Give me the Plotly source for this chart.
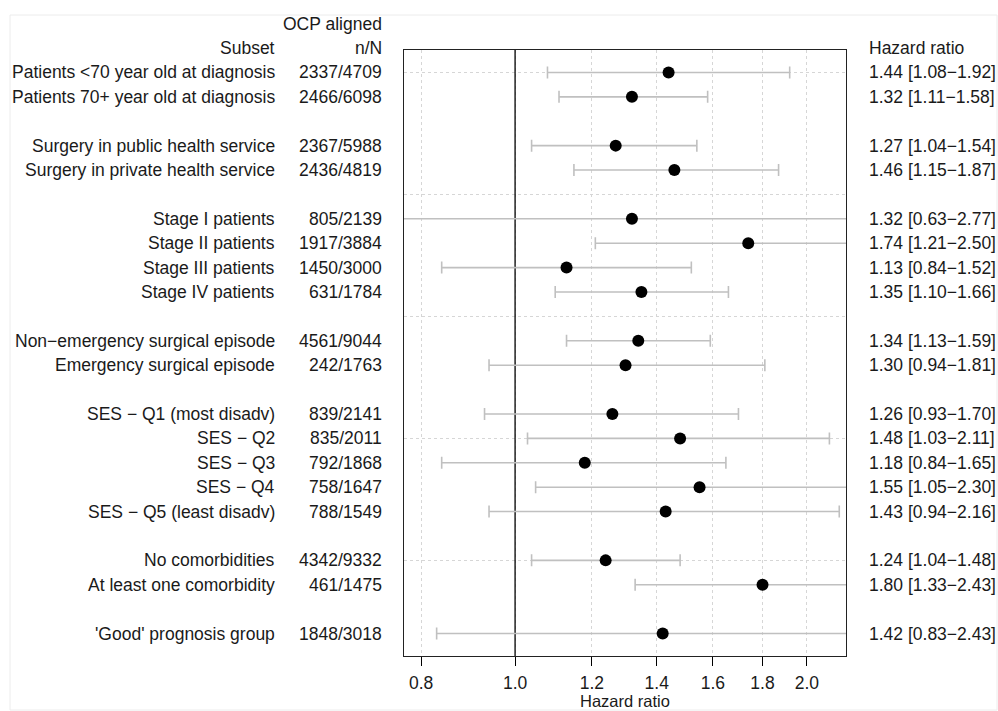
import plotly.graph_objects as go

# ---- data ----
groups = [
    ["Patients <70 year old at diagnosis", "Patients 70+ year old at diagnosis"],
    ["Surgery in public health service", "Surgery in private health service"],
    ["Stage I patients", "Stage II patients", "Stage III patients", "Stage IV patients"],
    ["Non\u2212emergency surgical episode", "Emergency surgical episode"],
    ["SES \u2212 Q1 (most disadv)", "SES \u2212 Q2", "SES \u2212 Q3", "SES \u2212 Q4", "SES \u2212 Q5 (least disadv)"],
    ["No comorbidities", "At least one comorbidity"],
    ["'Good' prognosis group"],
]
n_over_N = ["2337/4709", "2466/6098", "2367/5988", "2436/4819", "805/2139", "1917/3884",
            "1450/3000", "631/1784", "4561/9044", "242/1763", "839/2141", "835/2011",
            "792/1868", "758/1647", "788/1549", "4342/9332", "461/1475", "1848/3018"]
hr = [1.44, 1.32, 1.27, 1.46, 1.32, 1.74, 1.13, 1.35, 1.34, 1.30, 1.26, 1.48, 1.18, 1.55, 1.43, 1.24, 1.80, 1.42]
lo = [1.08, 1.11, 1.04, 1.15, 0.63, 1.21, 0.84, 1.10, 1.13, 0.94, 0.93, 1.03, 0.84, 1.05, 0.94, 1.04, 1.33, 0.83]
hi = [1.92, 1.58, 1.54, 1.87, 2.77, 2.50, 1.52, 1.66, 1.59, 1.81, 1.70, 2.11, 1.65, 2.30, 2.16, 1.48, 2.43, 2.43]
x_ticks = [0.8, 1.0, 1.2, 1.4, 1.6, 1.8, 2.0]
x_tick_labels = ["0.8", "1.0", "1.2", "1.4", "1.6", "1.8", "2.0"]
ref_hr = 1.0

# ---- layout of rows (one blank row between groups) ----
subsets, rows = [], []
r = 0
for g in groups:
    for s in g:
        subsets.append(s)
        rows.append(r)
        r += 1
    r += 1
n_rows = rows[-1] + 1
pad = 0.04 * (n_rows - 1)
y_range = [rows[-1] + pad, -pad]

FONT = "Liberation Sans, Arial, sans-serif"
FS = 17.5
TXT = "#1a1a1a"
W, H = 998, 711
L, R, T, B = 404, 152, 50, 55
pw = W - L - R
ph = H - T - B

def px_x(px):
    return (px - L) / pw

def px_y(py):
    return (T + ph - py) / ph

row_px = ph / (y_range[0] - y_range[1])

def row_to_py(rw):
    return T + (rw - y_range[1]) * row_px

fig = go.Figure()

# reference line at HR = 1
fig.add_trace(go.Scatter(x=[ref_hr, ref_hr], y=y_range, mode="lines",
                         line=dict(color="black", width=1.3), hoverinfo="skip",
                         showlegend=False))

fig.add_trace(go.Scatter(
    x=hr, y=rows, mode="markers",
    marker=dict(color="black", size=12),
    error_x=dict(type="data", symmetric=False,
                 array=[h - m for h, m in zip(hi, hr)],
                 arrayminus=[m - l for m, l in zip(hr, lo)],
                 color="#c0c0c0", thickness=1.6, width=6),
    showlegend=False, cliponaxis=True,
))

ann = []
for s, nn, h, l, u, y in zip(subsets, n_over_N, hr, lo, hi, rows):
    ann.append(dict(x=px_x(277), y=y, xref="paper", yref="y", text=s,
                    xanchor="right", yanchor="middle", showarrow=False))
    ann.append(dict(x=px_x(384), y=y, xref="paper", yref="y", text=nn,
                    xanchor="right", yanchor="middle", showarrow=False))
    ann.append(dict(x=px_x(867), y=y, xref="paper", yref="y",
                    text=f"{h:.2f} [{l:.2f}\u2212{u:.2f}]",
                    xanchor="left", yanchor="middle", showarrow=False))
# headers (one and two rows above the first subset)
hdr1 = px_y(row_to_py(-1))
hdr2 = px_y(row_to_py(-2))
ann.append(dict(x=px_x(277), y=hdr1, xref="paper", yref="paper", text="Subset",
                xanchor="right", yanchor="middle", showarrow=False))
ann.append(dict(x=px_x(384), y=hdr1, xref="paper", yref="paper", text="n/N",
                xanchor="right", yanchor="middle", showarrow=False))
ann.append(dict(x=px_x(384), y=hdr2, xref="paper", yref="paper", text="OCP aligned",
                xanchor="right", yanchor="middle", showarrow=False))
ann.append(dict(x=px_x(867), y=hdr1, xref="paper", yref="paper", text="Hazard ratio",
                xanchor="left", yanchor="middle", showarrow=False))
# x-axis title
ann.append(dict(x=0.5, y=px_y(711), xref="paper", yref="paper",
                text="Hazard ratio", xanchor="center", yanchor="bottom", showarrow=False,
                borderpad=0, font=dict(size=16.5)))

fig.update_layout(
    width=W, height=H,
    margin=dict(l=L, r=R, t=T, b=B, pad=0),
    paper_bgcolor="white", plot_bgcolor="white",
    font=dict(family=FONT, size=FS, color=TXT),
    annotations=ann,
    shapes=[dict(type="rect", xref="paper", yref="paper",
                 x0=px_x(10), x1=px_x(997), y0=px_y(710), y1=px_y(15),
                 line=dict(color="#ececec", width=1), layer="below")],
)
fig.update_xaxes(
    type="log", range=[-0.1146, 0.3414],
    tickvals=x_ticks, ticktext=x_tick_labels,
    ticks="outside", ticklen=9, tickwidth=1, tickcolor="black",
    showline=True, mirror=True, linecolor="#222", linewidth=1.3,
    showgrid=True, gridcolor="#d6d6d6", griddash="dot", gridwidth=1,
    zeroline=False, tickfont=dict(size=FS, color=TXT), ticklabelstandoff=2,
)
fig.update_yaxes(
    range=y_range, tickvals=[0, 5, 10, 15, 20], showticklabels=False, ticks="",
    showline=True, mirror=True, linecolor="#222", linewidth=1.3,
    showgrid=True, gridcolor="#d6d6d6", griddash="dot", gridwidth=1,
    zeroline=False,
)

fig.write_html("out.html", config={"displayModeBar": False},
               post_script="document.body.style.margin='0';document.body.style.padding='0';")
